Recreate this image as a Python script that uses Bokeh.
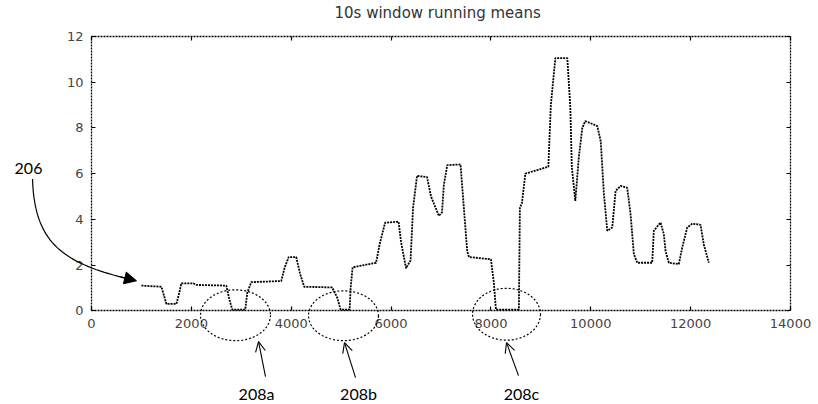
import numpy as np
from bokeh.plotting import figure
from bokeh.models import (Label, Arrow, OpenHead, NormalHead, PolyAnnotation,
                          LinearAxis, Range1d, FixedTicker)
from bokeh.embed import file_html
from bokeh.resources import INLINE

# ---- data ----
t_ms = [1000, 1400, 1460, 1500, 1700, 1760, 1800, 2040, 2100, 2700, 2760, 2820,
        3080, 3120, 3200, 3800, 3870, 3950, 4100, 4180, 4260, 4820, 4920, 4990,
        5170, 5190, 5230, 5700, 5770, 5880, 6150, 6200, 6300, 6390, 6440, 6520,
        6720, 6800, 6957, 7020, 7057, 7125, 7391, 7458, 7525, 7560, 8000, 8060,
        8100, 8560, 8580, 8620, 8690, 9150, 9200, 9290, 9530, 9590, 9620, 9690,
        9760, 9830, 9890, 10130, 10200, 10260, 10330, 10430, 10497, 10596, 10730,
        10797, 10863, 10931, 11230, 11263, 11397, 11463, 11497, 11563, 11763,
        11831, 11931, 12032, 12198, 12264, 12364]
running_mean = [1.1, 1.05, 0.6, 0.3, 0.3, 0.8, 1.2, 1.2, 1.13, 1.1, 0.5, 0.05,
                0.05, 0.8, 1.25, 1.3, 1.9, 2.35, 2.35, 1.6, 1.05, 1.02, 0.58, 0.05,
                0.05, 1.0, 1.9, 2.1, 2.9, 3.85, 3.9, 3.0, 1.86, 2.2, 4.5, 5.9,
                5.85, 5.0, 4.15, 4.3, 5.5, 6.37, 6.4, 4.5, 2.6, 2.35, 2.25, 1.2,
                0.05, 0.05, 4.5, 4.7, 6.0, 6.3, 9.0, 11.05, 11.05, 8.9, 6.3, 4.8,
                6.7, 8.0, 8.3, 8.08, 7.4, 5.2, 3.5, 3.64, 5.24, 5.46, 5.38,
                4.22, 2.47, 2.1, 2.1, 3.5, 3.86, 3.35, 2.62, 2.1, 2.04,
                2.76, 3.64, 3.81, 3.76, 2.9, 2.1]
x_ticks = [0, 2000, 4000, 6000, 8000, 10000, 12000, 14000]
y_ticks = [0, 2, 4, 6, 8, 10, 12]
title_text = "10s window running means"
ref_labels = ["206", "208a", "208b", "208c"]

# ---- layout: the plot box sits at pixels x 91..790, y 35..310 ----
W, H = 818, 404
TOP = 21                      # title band
BX0, BX1, BY0, BY1 = 91, 790, 35, 310
XMAX, YMAX = 14000, 12


def sx(px):
    return (px - BX0) * XMAX / (BX1 - BX0)


def sy(py):
    return (BY1 - py) * YMAX / (BY1 - BY0)


p = figure(width=W, height=H, output_backend="svg", toolbar_location=None,
           x_range=Range1d(sx(0), sx(W)), y_range=Range1d(sy(H), sy(TOP)),
           min_border_left=0, min_border_right=0, min_border_top=TOP,
           min_border_bottom=0, x_axis_location=None, y_axis_location=None)
p.grid.visible = False
p.background_fill_color = "white"
p.border_fill_color = "white"
p.outline_line_color = None

p.title.text = title_text
p.title.align = "left"
p.title.offset = 334
p.title.text_font = "DejaVu Sans"
p.title.text_font_size = "15px"
p.title.text_font_style = "normal"
p.title.text_color = "#333333"
p.title.standoff = 2


def make_axis(kind, loc, labels):
    if kind == "x":
        ax = LinearAxis(ticker=FixedTicker(ticks=x_ticks), bounds=(0, XMAX),
                        fixed_location=0 if loc == "below" else YMAX)
    else:
        ax = LinearAxis(ticker=FixedTicker(ticks=y_ticks), bounds=(0, YMAX),
                        fixed_location=0 if loc == "left" else XMAX)
    ax.axis_line_color = "black"
    ax.axis_line_width = 1.3
    ax.axis_line_dash = "2 1"
    ax.major_tick_in = 4
    ax.major_tick_out = 0
    ax.minor_tick_line_color = None
    ax.major_tick_line_color = "black"
    ax.major_tick_line_width = 1.2
    if labels:
        ax.major_label_text_font = "DejaVu Sans"
        ax.major_label_text_font_size = "13px"
        ax.major_label_text_color = "#444444"
        ax.major_label_standoff = 8
    else:
        ax.major_label_text_color = None
        ax.major_label_standoff = 0
    p.add_layout(ax, loc)


make_axis("x", "below", True)
make_axis("x", "above", False)
make_axis("y", "left", True)
make_axis("y", "right", False)

# ---- the running-mean curve ----
p.line(t_ms, running_mean, line_color="black", line_width=1.8, line_dash="2 1")

# ---- reference annotations (patent figure) ----
ann_font = "Lato"
for text, cx, cy in [(ref_labels[0], 28, 167), (ref_labels[1], 256, 393),
                     (ref_labels[2], 358, 393), (ref_labels[3], 521, 393)]:
    p.add_layout(Label(x=sx(cx), y=sy(cy), text=text, text_align="center",
                       text_baseline="middle", text_font=ann_font,
                       text_font_size="16px", text_color="black"))

# dashed ellipses
th = np.linspace(0, 2 * np.pi, 80)
for cx, cy, rx, ry in [(235, 314.5, 35, 25.5), (343, 315, 35, 25), (506, 313.5, 34, 26)]:
    ex = [sx(cx + rx * np.cos(a)) for a in th]
    ey = [sy(cy + ry * np.sin(a)) for a in th]
    p.add_layout(PolyAnnotation(xs=ex, ys=ey, fill_color=None, fill_alpha=0,
                                line_color="black", line_alpha=1.0,
                                line_width=1.2, line_dash="2 2"))

# straight arrows with open heads
for x0, y0, x1, y1 in [(265, 376, 258, 341), (355, 377, 344, 342), (518, 375, 506, 342)]:
    p.add_layout(Arrow(x_start=sx(x0), y_start=sy(y0), x_end=sx(x1), y_end=sy(y1),
                       line_color="black", line_width=1.1,
                       end=OpenHead(size=10, line_color="black", line_width=1.1)))

# curved arrow for 206 (cubic bezier drawn as a retraced open path)
P0, P1, P2, P3 = (32, 178), (34, 240), (60, 262), (128, 278)
ts = np.linspace(0, 1, 40)
bx = [(1 - t) ** 3 * P0[0] + 3 * (1 - t) ** 2 * t * P1[0] + 3 * (1 - t) * t ** 2 * P2[0] + t ** 3 * P3[0] for t in ts]
by = [(1 - t) ** 3 * P0[1] + 3 * (1 - t) ** 2 * t * P1[1] + 3 * (1 - t) * t ** 2 * P2[1] + t ** 3 * P3[1] for t in ts]
cxs = [sx(v) for v in bx + bx[::-1]]
cys = [sy(v) for v in by + by[::-1]]
p.add_layout(PolyAnnotation(xs=cxs, ys=cys, fill_color=None, fill_alpha=0,
                            line_color="black", line_alpha=1.0, line_width=1.2))
p.add_layout(Arrow(x_start=sx(120), y_start=sy(276), x_end=sx(136), y_end=sy(280),
                   line_color="black", line_width=1.2,
                   end=NormalHead(size=12, fill_color="black", line_color="black")))

open("out.html", "w").write(file_html(p, INLINE))
